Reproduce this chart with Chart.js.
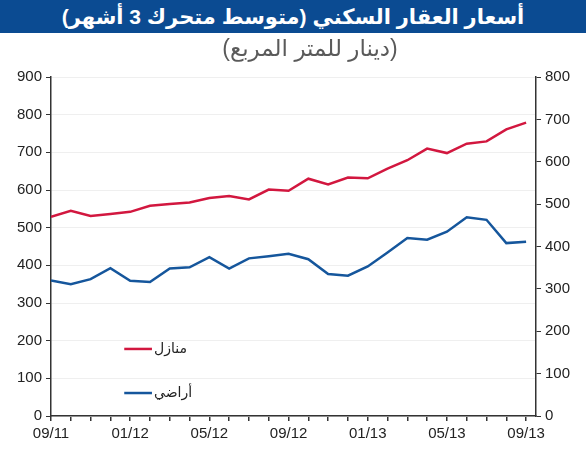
<!DOCTYPE html>
<html>
<head>
<meta charset="utf-8">
<script src="https://cdn.jsdelivr.net/npm/chart.js@4/dist/chart.umd.min.js"></script>
<style>
  body { margin: 0; background: #fff; }
  #wrap { position: relative; width: 586px; height: 450px; }
  #band { position: absolute; left: 0; top: 0; width: 586px; height: 33px; background: #0b4b92; color: #fff;
          font: bold 21px Arial, 'Liberation Sans', 'DejaVu Sans', sans-serif; text-align: center; line-height: 33px; direction: rtl; }
  #sub { position: absolute; left: 34px; top: 35px; width: 552px; text-align: center; color: #5a5a5a;
         font: 23px Arial, 'Liberation Sans', 'DejaVu Sans', sans-serif; direction: rtl; }
  canvas { position: absolute; left: 0; top: 0; }
</style>
</head>
<body>
<div id="wrap">
  <canvas id="trand1" width="586" height="450"></canvas>
  <div id="band">أسعار العقار السكني (متوسط متحرك 3 أشهر)</div>
  <div id="sub">(دينار للمتر المربع)</div>
</div>
<script>
// months 09/11 .. 09/13
let months = ['09/11','10/11','11/11','12/11','01/12','02/12','03/12','04/12','05/12','06/12','07/12','08/12',
              '09/12','10/12','11/12','12/12','01/13','02/13','03/13','04/13','05/13','06/13','07/13','08/13','09/13'];
let houses = [529,545,531,536,542,558,563,567,579,584,575,601,598,630,615,633,631,657,679,710,698,723,729,761,779];
let land   = [320,311,323,349,319,316,348,351,375,348,372,377,383,370,335,331,353,386,420,416,435,469,463,408,411];
let names  = ['منازل', 'أراضي'];
let colors = ['#d2173f', '#15569c'];

let font = "Arial, 'Liberation Sans', 'DejaVu Sans', sans-serif";

function pts(arr) {
    return arr.map(function(v, i) { return { x: i, y: v }; });
}

let legendPlugin = {
    id: 'inLegend',
    afterDatasetsDraw: function(chart) {
        let ctx = chart.ctx,
            xs = chart.scales.x,
            ys = chart.scales.y;
        let rows = [178, 61];
        chart.data.datasets.forEach(function(ds, i) {
            let y = ys.getPixelForValue(rows[i]),
                x0 = xs.getPixelForValue(3.7),
                x1 = xs.getPixelForValue(5.1);
            ctx.save();
            ctx.strokeStyle = ds.borderColor;
            ctx.lineWidth = 2.5;
            ctx.beginPath();
            ctx.moveTo(x0, y);
            ctx.lineTo(x1, y);
            ctx.stroke();
            ctx.fillStyle = '#222';
            ctx.font = '14px ' + font;
            ctx.textAlign = 'left';
            ctx.textBaseline = 'middle';
            ctx.fillText(ds.label, x1 + 2, y);
            ctx.restore();
        });
    }
};

var ctx = document.getElementById('trand1').getContext('2d');
var chart = new Chart(ctx, {
    type: 'line',
    data: {
        datasets: [{
            label: names[0],
            data: pts(houses),
            borderColor: colors[0],
            borderWidth: 2.5,
            pointRadius: 0,
            tension: 0,
            fill: false,
            yAxisID: 'y'
        }, {
            label: names[1],
            data: pts(land),
            borderColor: colors[1],
            borderWidth: 2.5,
            pointRadius: 0,
            tension: 0,
            fill: false,
            yAxisID: 'y2'
        }]
    },
    options: {
        responsive: false,
        animation: false,
        layout: { padding: { top: 77 } },
        plugins: { legend: { display: false }, tooltip: { enabled: false } },
        scales: {
            x: {
                type: 'linear',
                min: 0,
                max: 24.5,
                afterFit: function(s) { s.height = 34; },
                border: { color: '#333', width: 1.5 },
                grid: { drawOnChartArea: false, tickLength: 5, tickColor: '#333', lineWidth: 1.5 },
                ticks: {
                    stepSize: 1,
                    autoSkip: false,
                    maxRotation: 0,
                    includeBounds: false,
                    padding: 4,
                    color: '#222',
                    font: { family: font, size: 15 },
                    callback: function(v) {
                        return (v % 4 === 0 && months[v]) ? months[v] : '';
                    }
                }
            },
            y: {
                position: 'left',
                min: 0,
                max: 900,
                afterFit: function(s) { s.width = 51; },
                border: { color: '#333', width: 1.5 },
                grid: { color: '#efefef', tickLength: 5, tickColor: '#333', lineWidth: 1 },
                ticks: { stepSize: 100, padding: 4, color: '#222', font: { family: font, size: 15 } }
            },
            y2: {
                position: 'right',
                min: 0,
                max: 800,
                afterFit: function(s) { s.width = 50; },
                border: { color: '#333', width: 1.5 },
                grid: { drawOnChartArea: false, tickLength: 5, tickColor: '#333' },
                ticks: { stepSize: 100, padding: 4, color: '#222', font: { family: font, size: 15 } }
            }
        }
    },
    plugins: [legendPlugin]
});
</script>
</body>
</html>
